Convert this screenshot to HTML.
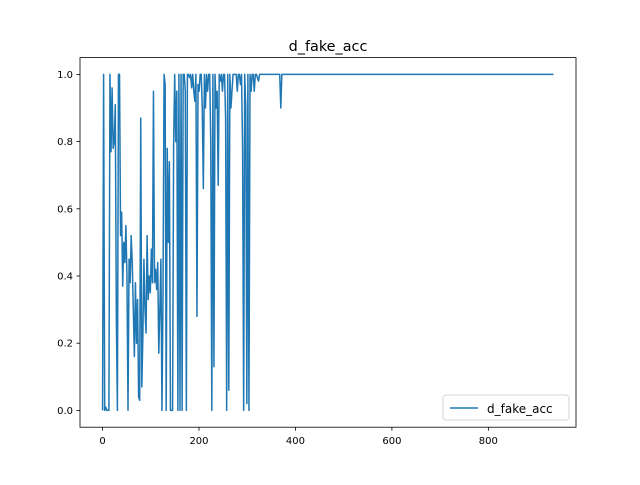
<!DOCTYPE html>
<html><head><meta charset="utf-8"><style>
body{margin:0;background:#fff;font-family:"Liberation Sans","DejaVu Sans",sans-serif}
</style></head><body>
<svg id="chart" width="640" height="480" xmlns="http://www.w3.org/2000/svg" font-family="DejaVu Sans, Liberation Sans, sans-serif">
<rect width="640" height="480" fill="#fff"/>
<text x="328" y="51" font-size="14.4" text-anchor="middle">d_fake_acc</text>
<g id="plot"></g>
<rect x="80" y="57.6" width="496" height="369.6" fill="none" stroke="#000" stroke-width="0.8"/>
<g id="axes"></g>
<g>
<rect x="443" y="395" width="126" height="25" rx="3" fill="#fff" fill-opacity="0.8" stroke="#ccc" stroke-width="0.8"/>
<line x1="450" y1="408" x2="478" y2="408" stroke="#1f77b4" stroke-width="1.5"/>
<text x="487" y="413" font-size="12">d_fake_acc</text>
</g>
</svg>
<script>
// samples spaced xStep apart starting at x=0, then flat to the end
const xStep = 2.2;
const values = [
0.0,1.0,0.0,0.01,0.0,0.0,0.0,1.0,0.77,0.96,0.78,0.8,0.91,0.28,0.0,1.0,1.0,0.52,0.59,0.37,
0.5,0.44,0.55,0.4,0.0,0.45,0.38,0.52,0.44,0.3,0.16,0.38,0.2,0.33,0.04,0.03,0.87,0.07,0.22,0.45,
0.3,0.23,0.52,0.33,0.4,0.35,0.48,0.38,0.95,0.38,0.42,0.36,0.44,0.17,0.3,0.45,0.0,0.35,1.0,0.97,
0.0,0.78,0.5,0.74,0.0,0.0,0.0,0.79,1.0,0.8,0.95,0.0,1.0,0.0,1.0,0.0,1.0,1.0,0.95,0.0,
1.0,1.0,0.99,1.0,0.96,1.0,0.95,0.92,1.0,0.28,0.97,0.95,1.0,1.0,0.9,0.66,1.0,0.9,1.0,0.95,
1.0,1.0,0.8,0.0,1.0,0.13,1.0,0.9,0.95,0.67,1.0,0.98,1.0,0.95,1.0,1.0,0.87,0.0,1.0,0.06,
1.0,0.9,0.95,1.0,1.0,1.0,1.0,0.95,1.0,1.0,0.97,1.0,0.78,0.0,1.0,0.9,0.02,1.0,0.0,1.0,
0.95,1.0,1.0,0.95,1.0,1.0,0.99,0.98,1.0,1.0,1.0,1.0,1.0,1.0,1.0,1.0,1.0,1.0,1.0,1.0,
1.0,1.0,1.0,1.0,1.0,1.0,1.0,1.0,0.9,1.0
];
const lastX = 935;
const lastValue = 1.0;
const xTicks = [0,200,400,600,800];
const yTicks = [0.0,0.2,0.4,0.6,0.8,1.0];
const yTickLabels = ["0.0","0.2","0.4","0.6","0.8","1.0"];

const NS="http://www.w3.org/2000/svg";
const xMin=-46.75,xMax=981.75,yMin=-0.05,yMax=1.05;
const L=80,R=576,T=57.6,B=427.2;
function sx(v){return L+(v-xMin)/(xMax-xMin)*(R-L);}
function sy(v){return B-(v-yMin)/(yMax-yMin)*(B-T);}
const pts=values.map((v,i)=>[i*xStep,v]);
pts.push([lastX,lastValue]);
const line=document.createElementNS(NS,'polyline');


line.setAttribute('points',pts.map(p=>sx(p[0]).toFixed(2)+','+sy(p[1]).toFixed(2)).join(' '));
line.setAttribute('fill','none');line.setAttribute('stroke','#1f77b4');line.setAttribute('stroke-width','1.5');
line.setAttribute('stroke-linejoin','round');
document.getElementById('plot').appendChild(line);
const ax=document.getElementById('axes');
xTicks.forEach(t=>{
 const x=sx(t);
 const l=document.createElementNS(NS,'line');
 
 
 l.setAttribute('x1',x);l.setAttribute('x2',x);l.setAttribute('y1',B);l.setAttribute('y2',B+3.5);l.setAttribute('stroke','#000');l.setAttribute('stroke-width','0.8');
 ax.appendChild(l);
 const tx=document.createElementNS(NS,'text');
 
 
 tx.setAttribute('x',x);tx.setAttribute('y',B+17);tx.setAttribute('font-size','10');tx.setAttribute('text-anchor','middle');
 tx.textContent=String(t);ax.appendChild(tx);
});
yTicks.forEach((t,i)=>{
 const y=sy(t);
 const l=document.createElementNS(NS,'line');
 
 
 l.setAttribute('x1',L-3.5);l.setAttribute('x2',L);l.setAttribute('y1',y);l.setAttribute('y2',y);l.setAttribute('stroke','#000');l.setAttribute('stroke-width','0.8');
 ax.appendChild(l);
 const tx=document.createElementNS(NS,'text');
 
 
 tx.setAttribute('x',L-7);tx.setAttribute('y',y+3.5);tx.setAttribute('font-size','10');tx.setAttribute('text-anchor','end');
 tx.textContent=yTickLabels[i];ax.appendChild(tx);
});
</script>
</body></html>
